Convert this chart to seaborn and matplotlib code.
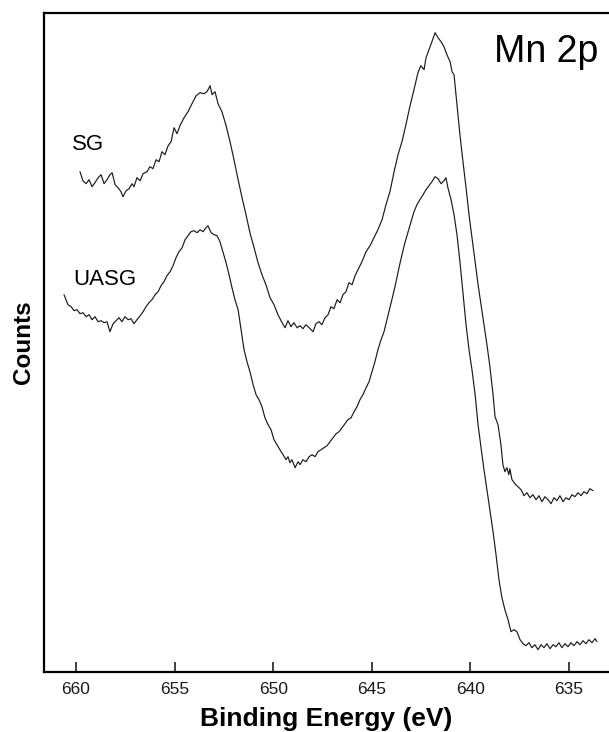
import matplotlib
matplotlib.use("Agg")
import matplotlib.pyplot as plt
import seaborn as sns
import pandas as pd

# ---- data (binding energy in eV, counts in arbitrary units) ----
sg_energy = [659.80, 659.65, 659.49, 659.34, 659.19, 659.04, 658.88, 658.73, 658.58, 658.43,
             658.28, 658.17, 658.02, 657.87, 657.72, 657.62, 657.46, 657.31, 657.16, 657.06,
             656.91, 656.75, 656.60, 656.40, 656.25, 656.10, 655.94, 655.79, 655.64, 655.49,
             655.33, 655.18, 655.03, 654.88, 654.73, 654.52, 654.32, 654.12, 653.91, 653.71,
             653.51, 653.36, 653.20, 653.10, 652.95, 652.80, 652.60, 652.39, 652.19, 651.99,
             651.78, 651.58, 651.38, 651.18, 650.97, 650.77, 650.57, 650.37, 650.16, 649.96,
             649.76, 649.55, 649.40, 649.25, 649.10, 648.95, 648.79, 648.64, 648.49, 648.34,
             648.18, 647.98, 647.83, 647.68, 647.53, 647.37, 647.22, 647.07, 646.92, 646.76,
             646.61, 646.46, 646.31, 646.16, 646.00, 645.85, 645.70, 645.50, 645.29, 645.09,
             644.89, 644.69, 644.48, 644.28, 644.08, 643.87, 643.67, 643.47, 643.27, 643.06,
             642.86, 642.66, 642.51, 642.35, 642.25, 642.10, 641.95, 641.79, 641.64, 641.49,
             641.34, 641.19, 641.03, 640.93, 640.83, 640.68, 640.53, 640.37, 640.22, 640.07,
             639.92, 639.76, 639.61, 639.46, 639.31, 639.16, 639.01, 638.85, 638.75, 638.60,
             638.45, 638.35, 638.25, 638.15, 638.05, 638.00, 637.89, 637.74, 637.59, 637.43,
             637.28, 637.13, 636.98, 636.83, 636.67, 636.52, 636.37, 636.22, 636.06, 635.91,
             635.76, 635.61, 635.46, 635.30, 635.15, 635.00, 634.85, 634.70, 634.54, 634.39,
             634.24, 634.09, 633.94, 633.78]
sg_counts = [500, 491, 488, 492, 485, 489, 494, 497, 488, 492,
             497, 499, 487, 484, 480, 475, 481, 483, 488, 485,
             494, 491, 498, 500, 505, 503, 512, 510, 520, 517,
             526, 530, 544, 538, 546, 554, 560, 568, 576, 579,
             578, 580, 586, 577, 580, 568, 560, 546, 530, 512,
             492, 474, 457, 439, 424, 409, 397, 387, 374, 367,
             357, 349, 344, 351, 345, 349, 344, 346, 343, 347,
             344, 340, 348, 350, 347, 354, 357, 365, 363, 372,
             369, 377, 380, 389, 387, 396, 402, 410, 420, 426,
             434, 442, 452, 467, 480, 500, 517, 530, 547, 566,
             582, 599, 606, 602, 614, 622, 630, 639, 634, 630,
             625, 617, 610, 600, 597, 567, 537, 509, 484, 457,
             434, 410, 387, 367, 347, 327, 305, 277, 255, 247,
             227, 207, 200, 204, 197, 203, 192, 188, 185, 182,
             176, 179, 174, 177, 172, 176, 170, 175, 172, 168,
             174, 171, 176, 170, 174, 172, 177, 175, 179, 176,
             180, 178, 183, 181]

uasg_energy = [660.61, 660.51, 660.41, 660.25, 660.10, 659.95, 659.80, 659.65, 659.49, 659.34,
               659.19, 659.04, 658.88, 658.73, 658.58, 658.43, 658.28, 658.12, 657.97, 657.82,
               657.67, 657.52, 657.36, 657.21, 657.06, 656.91, 656.75, 656.60, 656.45, 656.30,
               656.15, 655.99, 655.84, 655.69, 655.54, 655.39, 655.23, 655.08, 654.93, 654.78,
               654.62, 654.47, 654.32, 654.17, 654.02, 653.86, 653.71, 653.56, 653.41, 653.31,
               653.15, 653.00, 652.85, 652.70, 652.55, 652.39, 652.24, 652.09, 651.94, 651.78,
               651.63, 651.48, 651.33, 651.18, 651.02, 650.87, 650.72, 650.57, 650.42, 650.26,
               650.11, 649.96, 649.81, 649.66, 649.50, 649.35, 649.25, 649.15, 649.05, 648.89,
               648.74, 648.64, 648.49, 648.34, 648.18, 648.03, 647.88, 647.73, 647.58, 647.42,
               647.27, 647.12, 646.96, 646.81, 646.66, 646.51, 646.36, 646.21, 646.05, 645.90,
               645.75, 645.60, 645.45, 645.29, 645.14, 644.99, 644.84, 644.69, 644.53, 644.38,
               644.23, 644.08, 643.92, 643.77, 643.62, 643.47, 643.32, 643.16, 643.01, 642.86,
               642.71, 642.56, 642.40, 642.25, 642.10, 641.95, 641.79, 641.64, 641.49, 641.34,
               641.24, 641.14, 640.98, 640.83, 640.68, 640.53, 640.37, 640.22, 640.07, 639.92,
               639.76, 639.61, 639.46, 639.31, 639.16, 639.01, 638.85, 638.70, 638.55, 638.40,
               638.25, 638.09, 637.94, 637.79, 637.64, 637.48, 637.33, 637.18, 637.03, 636.88,
               636.73, 636.57, 636.42, 636.27, 636.12, 635.96, 635.81, 635.66, 635.51, 635.36,
               635.20, 635.05, 634.90, 634.75, 634.59, 634.44, 634.29, 634.14, 633.99, 633.83,
               633.68, 633.58]
uasg_counts = [377, 372, 367, 365, 361, 362, 358, 359, 355, 357,
               352, 355, 350, 351, 349, 350, 340, 348, 351, 354,
               350, 355, 352, 353, 348, 352, 356, 360, 365, 369,
               372, 377, 380, 386, 390, 396, 400, 406, 414, 420,
               424, 432, 436, 440, 441, 439, 442, 440, 444, 446,
               439, 437, 436, 430, 420, 409, 397, 384, 372, 362,
               342, 322, 310, 300, 287, 277, 272, 265, 254, 247,
               242, 232, 227, 222, 217, 212, 215, 209, 212, 204,
               210, 207, 212, 210, 215, 217, 215, 220, 222, 224,
               226, 230, 234, 238, 240, 244, 248, 252, 254, 260,
               265, 272, 277, 284, 290, 300, 310, 322, 332, 340,
               352, 364, 377, 390, 404, 417, 429, 440, 450, 460,
               467, 472, 477, 482, 486, 490, 495, 493, 488, 491,
               494, 484, 472, 457, 437, 410, 377, 347, 322, 302,
               277, 247, 224, 202, 182, 162, 140, 117, 92, 74,
               62, 52, 40, 42, 40, 32, 28, 26, 29, 24,
               27, 22, 27, 24, 28, 23, 27, 25, 29, 24,
               28, 25, 29, 26, 30, 27, 31, 28, 32, 29,
               33, 30]

series_labels = ["SG", "UASG"]
xtick_values = [660, 655, 650, 645, 640, 635]

# ---- style ----
sns.set_style("white")
plt.rcParams["font.family"] = ["Liberation Sans", "DejaVu Sans"]
plt.rcParams["text.color"] = "black"
plt.rcParams["axes.labelcolor"] = "black"

fig = plt.figure(figsize=(6.09, 7.32), dpi=100)
ax = fig.add_axes([43.7 / 609, 60.3 / 732, (609 - 43.7) / 609, 659.0 / 732])

df_sg = pd.DataFrame({"energy": sg_energy, "counts": sg_counts})
df_uasg = pd.DataFrame({"energy": uasg_energy, "counts": uasg_counts})
sns.lineplot(data=df_sg, x="energy", y="counts", ax=ax, color="#1a1a1a",
             linewidth=0.85, estimator=None, sort=False)
sns.lineplot(data=df_uasg, x="energy", y="counts", ax=ax, color="#1a1a1a",
             linewidth=0.85, estimator=None, sort=False)

ax.set_xlim(661.64, 632.97)
ax.set_ylim(0, 659)
ax.set_xticks(xtick_values)
ax.set_xticklabels([str(v) for v in xtick_values], fontsize=12.5, color="#1a1a1a")
ax.set_yticks([])
ax.tick_params(axis="x", direction="in", length=7.2, width=1.3, color="#333333", pad=7.5,
               bottom=True, top=False)

for side in ["left", "top", "bottom"]:
    ax.spines[side].set_visible(True)
    ax.spines[side].set_linewidth(1.6)
    ax.spines[side].set_color("black")
ax.spines["right"].set_visible(False)

ax.set_xlabel("Binding Energy (eV)", fontsize=19, fontweight="bold", labelpad=7, color="black")
ax.set_ylabel("Counts", fontsize=17.5, fontweight="bold", labelpad=6, color="black")

# annotations
fig.text(72 / 609, 1 - 150 / 732, series_labels[0], fontsize=16, ha="left", va="baseline", color="black")
fig.text(73 / 609, 1 - 285 / 732, series_labels[1], fontsize=16, ha="left", va="baseline", color="black")
fig.text(494 / 609, 1 - 62 / 732, "Mn 2p", fontsize=27, ha="left", va="baseline", color="black")

fig.savefig("out.png", dpi=100)
